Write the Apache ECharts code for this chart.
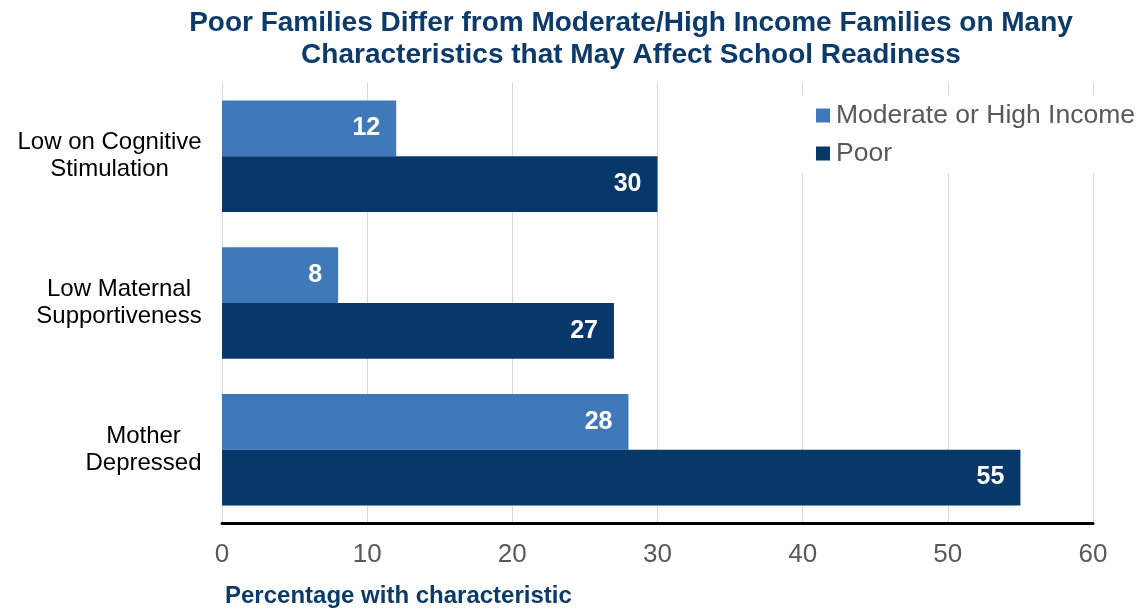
<!DOCTYPE html>
<html>
<head>
<meta charset="utf-8">
<script src="https://cdn.jsdelivr.net/npm/echarts@6/dist/echarts.min.js"></script>
<style>html,body{margin:0;padding:0;background:#fff}#c{width:1139px;height:611px}</style>
</head>
<body>
<div id="c"></div>
<script>
const categories = ['Low on Cognitive\nStimulation', 'Low Maternal\nSupportiveness', 'Mother\nDepressed'];
const moderateHigh = [12, 8, 28];
const poor = [30, 27, 55];
const seriesNames = ['Moderate or High Income', 'Poor'];
const xTicks = [0, 10, 20, 30, 40, 50, 60];

const FONT = '"Liberation Sans", Arial, sans-serif';
const CAT_SIZE = 24;

// measure the widest line of each category label so lines can be centred inside a right-aligned block
const ctx = document.createElement('canvas').getContext('2d');
ctx.font = CAT_SIZE + 'px ' + FONT;
const rich = {};
categories.forEach((c, i) => {
  const w = Math.max(...c.split('\n').map(s => ctx.measureText(s).width));
  rich['c' + i] = { width: Math.ceil(w), align: 'center', fontFamily: FONT, fontSize: CAT_SIZE, color: '#000', lineHeight: 27 };
});

const chart = echarts.init(document.getElementById('c'));
chart.setOption({
  animation: false,
  backgroundColor: '#fff',
  title: {
    text: 'Poor Families Differ from Moderate/High Income Families on Many\nCharacteristics that May Affect School Readiness',
    left: 626, top: 2, textAlign: 'center',
    textStyle: { fontFamily: FONT, fontWeight: 'bold', fontSize: 28, color: '#0b3a6b', lineHeight: 32 }
  },
  legend: {
    orient: 'vertical', left: 800, top: 96,
    backgroundColor: '#fff',
    padding: [6, 2, 6, 16],
    itemWidth: 14, itemHeight: 14, itemGap: 11,
    icon: 'rect',
    textStyle: { fontFamily: FONT, fontSize: 26.5, color: '#595959', padding: [0, 0, 0, 1] },
    data: seriesNames
  },
  grid: { left: 222, right: 46, top: 83, bottom: 88, containLabel: false, outerBoundsMode: 'none' },
  xAxis: {
    type: 'value', min: 0, max: 60, interval: 10,
    axisLine: { show: true, lineStyle: { color: '#000', width: 3 } },
    axisTick: { show: false },
    splitLine: { show: true, lineStyle: { color: '#d9d9d9', width: 1 } },
    axisLabel: { fontFamily: FONT, fontSize: 26, color: '#595959', margin: 19,
      formatter: v => xTicks.includes(v) ? String(v) : '' },
    name: 'Percentage with characteristic',
    nameLocation: 'start', nameGap: -3,
    nameTextStyle: { fontFamily: FONT, fontSize: 24, fontWeight: 'bold', color: '#0b3a6b',
      align: 'left', verticalAlign: 'top', padding: [61, 0, 0, 0] }
  },
  yAxis: {
    type: 'category', inverse: true,
    data: categories,
    axisLine: { show: false }, axisTick: { show: false }, splitLine: { show: false },
    axisLabel: {
      align: 'right', margin: 20, interval: 0, rich: rich,
      formatter: (v, i) => v.split('\n').map(s => '{c' + i + '|' + s + '}').join('\n')
    }
  },
  series: [
    {
      name: seriesNames[0], type: 'bar', data: moderateHigh,
      barGap: '0%', barCategoryGap: '24%',
      itemStyle: { color: '#4079ba' },
      label: { show: true, position: 'insideRight', distance: 16, color: '#fff',
        fontFamily: FONT, fontWeight: 'bold', fontSize: 25 }
    },
    {
      name: seriesNames[1], type: 'bar', data: poor,
      barGap: '0%', barCategoryGap: '24%',
      itemStyle: { color: '#07386a' },
      label: { show: true, position: 'insideRight', distance: 16, color: '#fff',
        fontFamily: FONT, fontWeight: 'bold', fontSize: 25 }
    }
  ]
});
</script>
</body>
</html>
